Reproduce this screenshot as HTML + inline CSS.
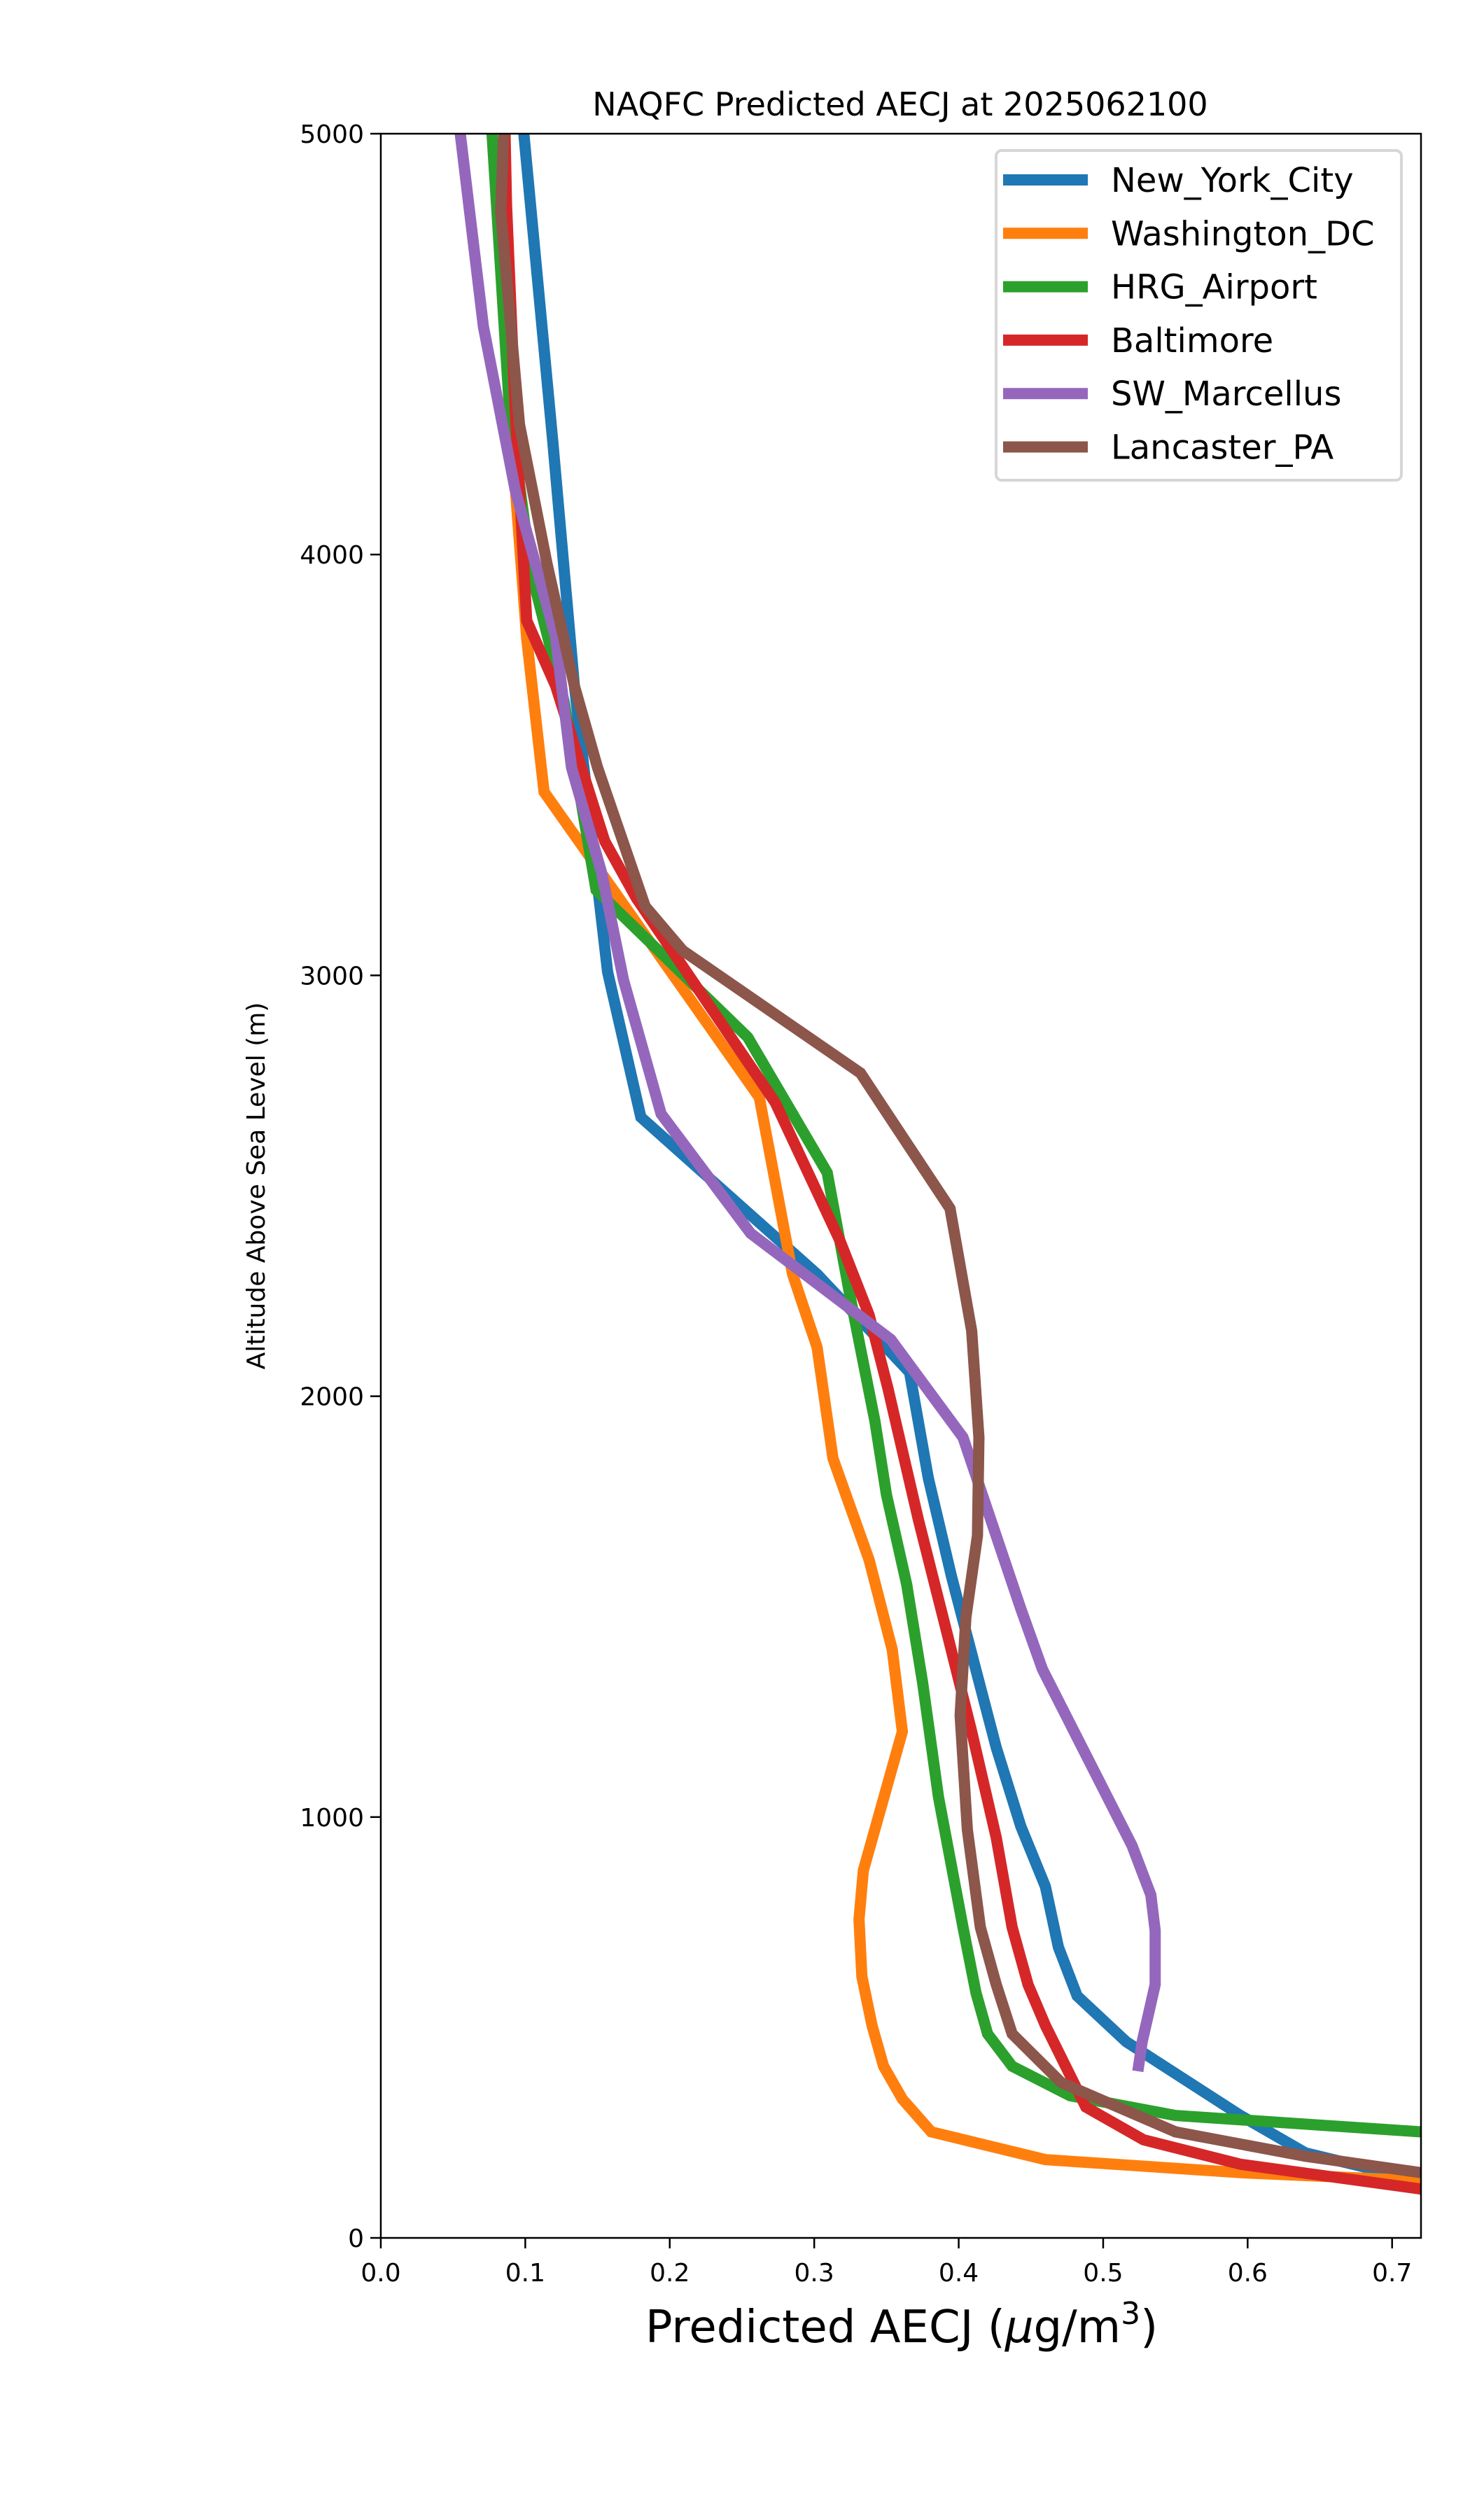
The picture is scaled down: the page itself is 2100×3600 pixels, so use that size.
<!DOCTYPE html>
<html><head><meta charset="utf-8"><style>
html,body{margin:0;padding:0;background:#fff;}
svg{display:block;font-family:"DejaVu Sans","Liberation Sans",sans-serif;}
</style></head><body>
<svg id="chart" width="2100" height="3600" viewBox="0 0 2100 3600">
<rect width="2100" height="3600" fill="#fff"/>
<defs><clipPath id="plotclip"><rect x="544" y="191" width="1486" height="3006"/></clipPath></defs>
<g id="series" clip-path="url(#plotclip)"></g>
<rect x="544" y="191" width="1486" height="3006" fill="none" stroke="#000" stroke-width="2.5"/>
<g id="xticks"></g>
<g id="yticks"></g>
<text x="1286" y="165" font-size="46" text-anchor="middle">NAQFC Predicted AECJ at 2025062100</text>
<text x="1288" y="3346" font-size="64" text-anchor="middle">Predicted AECJ (<tspan font-style="italic">μ</tspan>g/m<tspan font-size="44" dy="-26">3</tspan><tspan dy="26">)</tspan></text>
<text transform="translate(378,1694) rotate(-90)" font-size="36" text-anchor="middle">Altitude Above Sea Level (m)</text>
<g id="legend">
<rect x="1423" y="215" width="579" height="471" rx="8" fill="#fff" stroke="#d6d6d6" stroke-width="4"/>
</g>
</svg>
<script>
const names = ["New_York_City","Washington_DC","HRG_Airport","Baltimore","SW_Marcellus","Lancaster_PA"];
const colors = ["#1f77b4","#ff7f0e","#2ca02c","#d62728","#9467bd","#8c564b"];
const xTicks = [0,0.1,0.2,0.3,0.4,0.5,0.6,0.7];
const xTickLabels = ["0.0","0.1","0.2","0.3","0.4","0.5","0.6","0.7"];
const yTicks = [0,1000,2000,3000,4000,5000];
const yTickLabels = ["0","1000","2000","3000","4000","5000"];
const nycX = [.099,.119,.134,.157,.180,.302,.366,.379,.395,.426,.443,.460,.469,.482,.516,.595,.640,.72];
const nycY = [5000,4270,3688,3008,2663,2290,2057,1805,1572,1165,978,835,691,575,466,291,202,136];
const dcX = [.085,.090,.101,.113,.149,.262,.285,.302,.313,.338,.354,.361,.334,.331,.333,.340,.348,.361,.381,.460,.595,.72];
const dcY = [5000,4300,3800,3436,3261,2710,2290,2116,1852,1611,1398,1203,873,757,621,505,408,330,252,186,155,136];
const hrgX = [.077,.089,.104,.127,.149,.254,.309,.324,.342,.350,.364,.375,.386,.403,.412,.420,.437,.477,.550,.72];
const hrgY = [5000,4348,3960,3649,3203,2853,2531,2252,1941,1766,1553,1320,1048,738,582,485,408,338,291,252];
const balX = [.086,.087,.093,.101,.121,.155,.177,.273,.318,.338,.351,.372,.392,.409,.426,.437,.448,.460,.488,.528,.595,.72];
const balY = [5000,4833,4348,3843,3688,3319,3183,2698,2368,2193,2019,1708,1436,1203,951,738,602,505,311,233,175,116];
const swmX = [.055,.071,.093,.121,.132,.153,.168,.194,.256,.353,.403,.443,.458,.520,.533,.536,.536,.527,.524];
const swmY = [5000,4542,4154,3804,3494,3242,2989,2671,2387,2135,1902,1495,1351,932,815,730,602,466,396];
const lanX = [.085,.083,.096,.115,.134,.150,.183,.209,.332,.394,.409,.414,.413,.405,.401,.406,.415,.426,.437,.471,.550,.640,.72];
const lanY = [5000,4814,4309,3979,3688,3494,3164,3059,2768,2446,2155,1902,1669,1475,1242,970,738,602,485,369,252,194,155];

const seriesX = [nycX,dcX,hrgX,balX,swmX,lanX];
const seriesY = [nycY,dcY,hrgY,balY,swmY,lanY];
const NS = "http://www.w3.org/2000/svg";
const L=544,R=2030,T=191,B=3197,XMAX=0.72,YMAX=5000;
function sx(v){return L+(v/XMAX)*(R-L);}
function sy(v){return B-(v/YMAX)*(B-T);}
const g=document.getElementById("series");
for(let i=0;i<names.length;i++){
  const p=document.createElementNS(NS,"polyline");
  p.setAttribute("points",seriesX[i].map((x,j)=>sx(x)+","+sy(seriesY[i][j])).join(" "));
  p.setAttribute("fill","none");p.setAttribute("stroke",colors[i]);
  p.setAttribute("stroke-width","16");p.setAttribute("stroke-linejoin","miter");
  
  
  g.appendChild(p);
}
const xt=document.getElementById("xticks");
xTicks.forEach((v,i)=>{
  const l=document.createElementNS(NS,"line");
  l.setAttribute("x1",sx(v));l.setAttribute("x2",sx(v));l.setAttribute("y1",B);l.setAttribute("y2",B+15);
  l.setAttribute("stroke","#000");l.setAttribute("stroke-width","2.5");
  
  
  xt.appendChild(l);
  const t=document.createElementNS(NS,"text");
  t.setAttribute("x",sx(v));t.setAttribute("y",B+62);t.setAttribute("font-size","36");t.setAttribute("text-anchor","middle");
  t.textContent=xTickLabels[i];
  
  
  xt.appendChild(t);
});
const yt=document.getElementById("yticks");
yTicks.forEach((v,i)=>{
  const l=document.createElementNS(NS,"line");
  l.setAttribute("x1",L-15);l.setAttribute("x2",L);l.setAttribute("y1",sy(v));l.setAttribute("y2",sy(v));
  l.setAttribute("stroke","#000");l.setAttribute("stroke-width","2.5");
  
  
  yt.appendChild(l);
  const t=document.createElementNS(NS,"text");
  t.setAttribute("x",L-24);t.setAttribute("y",sy(v)+13);t.setAttribute("font-size","36");t.setAttribute("text-anchor","end");
  t.textContent=yTickLabels[i];
  
  
  yt.appendChild(t);
});
const lg=document.getElementById("legend");
names.forEach((n,i)=>{
  const y=257+i*76.3;
  const l=document.createElementNS(NS,"line");
  l.setAttribute("x1",1433);l.setAttribute("x2",1554);l.setAttribute("y1",y);l.setAttribute("y2",y);
  l.setAttribute("stroke",colors[i]);l.setAttribute("stroke-width","16");
  
  
  lg.appendChild(l);
  const t=document.createElementNS(NS,"text");
  t.setAttribute("x",1587);t.setAttribute("y",y+17);t.setAttribute("font-size","48");
  t.textContent=n;
  
  
  lg.appendChild(t);
});
</script>
</body></html>
